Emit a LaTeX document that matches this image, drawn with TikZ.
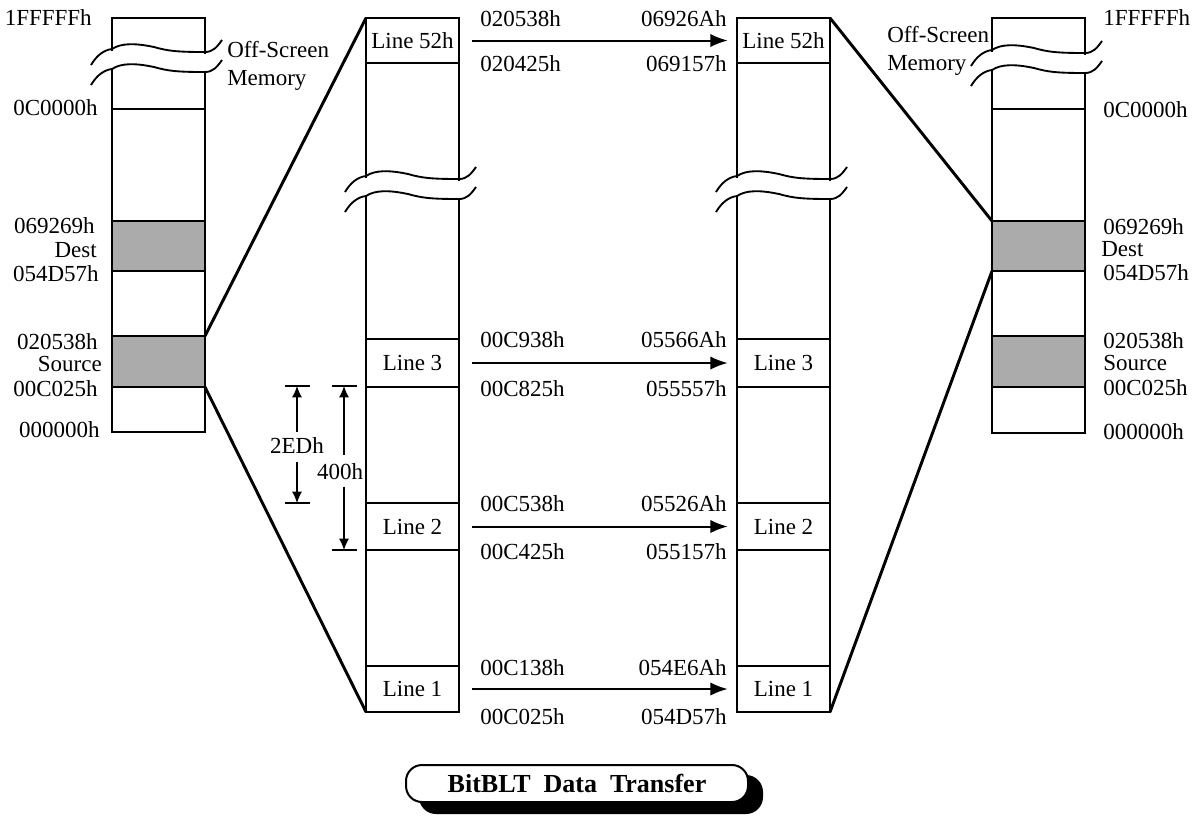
\documentclass[tikz,border=0pt]{standalone}
\usepackage{fontspec}
\setmainfont{Liberation Serif}
\usetikzlibrary{arrows.meta}
\newcommand{\colbreak}[2]{%
  \begin{scope}[shift={(#1,#2)}]
    \fill[white] (-3,1.5) rectangle (3,18.5);
    \fill[white] (90,4.5) rectangle (96,21.5);
    \draw[wave] (-21,16) .. controls (-15,6) and (-8,1) .. (0,0) .. controls (9,-6) and (23,-6) .. (42,-2) .. controls (56,2) and (65,3) .. (93,3) .. controls (101,3) and (105,-2) .. (110,-9);
    \draw[wave] (-21,36) .. controls (-15,26) and (-8,21) .. (0,20) .. controls (9,14) and (23,14) .. (42,18) .. controls (56,22) and (65,23) .. (93,23) .. controls (101,23) and (105,18) .. (110,11);
  \end{scope}}
\begin{document}
\begin{tikzpicture}[x=0.75pt,y=-0.75pt,
  col/.style={line width=1.5pt},
  zoomln/.style={line width=2.2pt},
  shaded/.style={fill=black!33},
  wave/.style={line width=1.4pt},
  lbl/.style={inner sep=0pt, text height=11.4pt, text depth=0pt, font=\fontsize{17.25}{20}\selectfont},
  linebox/.style={lbl, minimum width=69.75pt},
  arr/.style={line width=1.5pt, -{Latex[length=13pt,width=10pt]}},
  dimarr/.style={line width=0.9pt, -{Latex[length=8.5pt,width=7.5pt]}},
  tickln/.style={line width=1.1pt},
  titlebox/.style={line width=1.5pt, rounded corners=12pt, minimum width=256.5pt, minimum height=27.75pt, inner sep=0pt},
]
\useasboundingbox (0,0) rectangle (1201,815);

% ---------------- left column ----------------
\draw[col] (112,18) rectangle (205,432);
\draw[col] (112,109) -- (205,109);
\draw[col,shaded] (112,221) rectangle (205,271);
\draw[col,shaded] (112,336) rectangle (205,387);
\colbreak{112}{49}
\coordinate (srcTop) at (205,336);
\coordinate (srcBot) at (205,387);

\node[lbl,anchor=east] (l1) at (92,18) {1FFFFFh};
\node[lbl,anchor=east] (l2) at (98,108) {0C0000h};
\node[lbl,anchor=east] (l3) at (95,226) {069269h};
\node[lbl,anchor=east] (l4) at (97,250) {Dest};
\node[lbl,anchor=east] (l5) at (99,274) {054D57h};
\node[lbl,anchor=east] (l6) at (98,342) {020538h};
\node[lbl,anchor=east] (l7) at (102,364) {Source};
\node[lbl,anchor=east] (l8) at (98,389) {00C025h};
\node[lbl,anchor=east] (l9) at (100,430) {000000h};
\node[lbl,anchor=west] (loff) at (227,50) {Off-Screen};
\node[lbl,anchor=west] (lmem) at (227,78) {Memory};

% ---------------- right column ----------------
\draw[col] (992,18) rectangle (1085,433);
\draw[col] (992,109) -- (1085,109);
\draw[col,shaded] (992,221) rectangle (1085,271);
\draw[col,shaded] (992,336) rectangle (1085,387);
\colbreak{992}{50}
\coordinate (dstTop) at (992,221);
\coordinate (dstBot) at (992,271);

\node[lbl,anchor=west] (r1) at (1103,18) {1FFFFFh};
\node[lbl,anchor=west] (r2) at (1103,110) {0C0000h};
\node[lbl,anchor=west] (r3) at (1103,227) {069269h};
\node[lbl,anchor=west] (r4) at (1101,249) {Dest};
\node[lbl,anchor=west] (r5) at (1103,273) {054D57h};
\node[lbl,anchor=west] (r6) at (1103,341) {020538h};
\node[lbl,anchor=west] (r7) at (1103,363) {Source};
\node[lbl,anchor=west] (r8) at (1103,388) {00C025h};
\node[lbl,anchor=west] (r9) at (1103,432) {000000h};
\node[lbl,anchor=west] (roff) at (887,35) {Off-Screen};
\node[lbl,anchor=west] (rmem) at (887,63) {Memory};

% ---------------- middle-left column ----------------
\draw[col] (366,18) rectangle (459,712);
\foreach \yy in {63,339,387,503,550,666} \draw[col] (366,\yy) -- (459,\yy);
\colbreak{366}{176}
\coordinate (mlTL) at (366,18);
\coordinate (mlBL) at (366,712);
\node[linebox] (ls52) at (412.5,40.5) {Line 52h};
\node[linebox] (ls3) at (412.5,363) {Line 3};
\node[linebox] (ls2) at (412.5,526.5) {Line 2};
\node[linebox] (ls1) at (412.5,689) {Line 1};

% ---------------- middle-right column ----------------
\draw[col] (737,18) rectangle (830,712);
\foreach \yy in {63,339,387,503,550,666} \draw[col] (737,\yy) -- (830,\yy);
\colbreak{737}{176}
\coordinate (mrTR) at (830,18);
\coordinate (mrBR) at (830,712);
\node[linebox] (rs52) at (783.5,40.5) {Line 52h};
\node[linebox] (rs3) at (783.5,363) {Line 3};
\node[linebox] (rs2) at (783.5,526.5) {Line 2};
\node[linebox] (rs1) at (783.5,689) {Line 1};

% ---------------- zoom lines ----------------
\draw[zoomln] (srcTop) -- (mlTL);
\draw[zoomln] (srcBot) -- (mlBL);
\draw[zoomln] (mrTR) -- (dstTop);
\draw[zoomln] (mrBR) -- (dstBot);

% ---------------- transfer arrows ----------------
\foreach \n in {52,3,2,1}
  \draw[arr, shorten <=9.75pt, shorten >=6.75pt] (ls\n.east) -- (rs\n.west);

\node[lbl,anchor=west] (a52t) at (480,19) {020538h};
\node[lbl,anchor=west] (a52b) at (480,64) {020425h};
\node[lbl,anchor=east] (b52t) at (727,19) {06926Ah};
\node[lbl,anchor=east] (b52b) at (727,64) {069157h};

\node[lbl,anchor=west] (a3t) at (480,340) {00C938h};
\node[lbl,anchor=west] (a3b) at (480,389) {00C825h};
\node[lbl,anchor=east] (b3t) at (727,340) {05566Ah};
\node[lbl,anchor=east] (b3b) at (727,389) {055557h};

\node[lbl,anchor=west] (a2t) at (480,504) {00C538h};
\node[lbl,anchor=west] (a2b) at (480,552) {00C425h};
\node[lbl,anchor=east] (b2t) at (727,504) {05526Ah};
\node[lbl,anchor=east] (b2b) at (727,552) {055157h};

\node[lbl,anchor=west] (a1t) at (480,668) {00C138h};
\node[lbl,anchor=west] (a1b) at (480,717) {00C025h};
\node[lbl,anchor=east] (b1t) at (727,668) {054E6Ah};
\node[lbl,anchor=east] (b1b) at (727,717) {054D57h};

% ---------------- dimensions ----------------
\coordinate (d2top) at (297,386);
\coordinate (d2bot) at (297,503);
\coordinate (d4top) at (344,386);
\coordinate (d4bot) at (344,550);
\draw[tickln] (285,386) -- (310,386);
\draw[tickln] (285,503) -- (310,503);
\draw[tickln] (332,386) -- (357,386);
\draw[tickln] (332,550) -- (357,550);
\node[lbl] (t2ed) at (297,446) {2EDh};
\node[lbl] (t400) at (340,472) {400h};
\draw[dimarr, shorten <=4.5pt] (t2ed.north) -- (d2top);
\draw[dimarr, shorten <=6pt] (t2ed.south) -- (d2bot);
\draw[dimarr, shorten <=7pt] (t400.north -| d4top) -- (d4top);
\draw[dimarr, shorten <=5pt] (t400.south -| d4top) -- (d4bot);

% ---------------- title ----------------
\node[titlebox, fill=black, draw=black] (tshadow) at (591,794.5) {};
\node[titlebox, fill=white, draw=black, font=\fontsize{19.5}{22}\selectfont\bfseries] (title) at (577,783.5) {BitBLT\hspace{0.5em}Data\hspace{0.5em}Transfer};
\end{tikzpicture}
\end{document}
